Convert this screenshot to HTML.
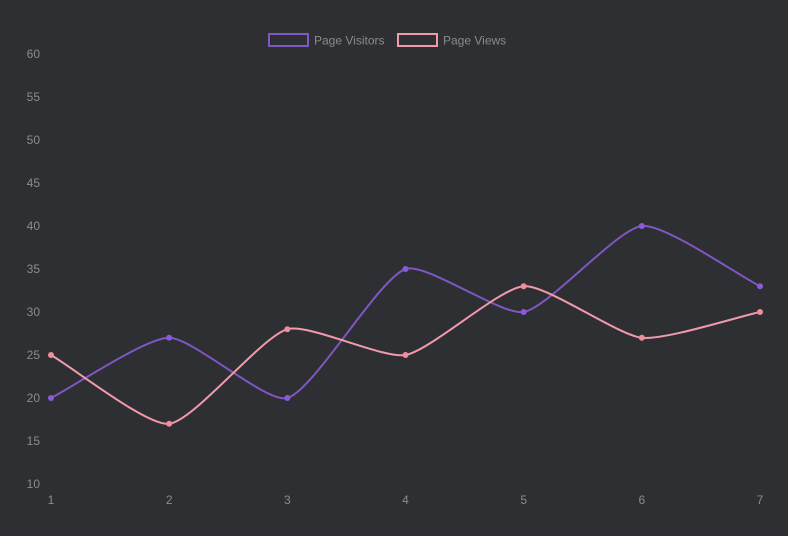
<!DOCTYPE html>
<html>
<head>
<meta charset="utf-8">
<style>
  html, body { margin:0; padding:0; background:#2e2f33; }
  svg { display:block; }
  text { font-family: "Liberation Sans", Arial, sans-serif; font-size:12px; fill:#8c8c8c; }
</style>
</head>
<body>
<svg width="788" height="536" viewBox="0 0 788 536" xmlns="http://www.w3.org/2000/svg">
  <rect x="0" y="0" width="788" height="536" fill="#2e2f33"/>

  <!-- Legend -->
  <rect x="269" y="34" width="39" height="12" fill="none" stroke="#7e57c2" stroke-width="2"/>
  <text x="314" y="44.5">Page Visitors</text>
  <rect x="398" y="34" width="39" height="12" fill="none" stroke="#f29aab" stroke-width="2"/>
  <text x="443" y="44.5">Page Views</text>

  <!-- Y axis labels -->
  <g text-anchor="end">
    <text x="40" y="58">60</text>
    <text x="40" y="101">55</text>
    <text x="40" y="144">50</text>
    <text x="40" y="187">45</text>
    <text x="40" y="230">40</text>
    <text x="40" y="273">35</text>
    <text x="40" y="316">30</text>
    <text x="40" y="359">25</text>
    <text x="40" y="402">20</text>
    <text x="40" y="445">15</text>
    <text x="40" y="488">10</text>
  </g>

  <!-- X axis labels -->
  <g text-anchor="middle">
    <text x="51" y="504">1</text>
    <text x="169.17" y="504">2</text>
    <text x="287.33" y="504">3</text>
    <text x="405.5" y="504">4</text>
    <text x="523.67" y="504">5</text>
    <text x="641.83" y="504">6</text>
    <text x="760" y="504">7</text>
  </g>

  <!-- Page Visitors -->
  <path d="M51,398 C74.64,385.96 145.53,337.8 169.17,337.8 C192.81,337.8 266.94,403.94 287.33,398 C314.21,390.17 378,279 405.5,269 C425.27,261.8 501.81,315.98 523.67,312 C549.08,307.37 617.05,228.71 641.83,226 C664.32,223.54 736.36,274.16 760,286.2"
        fill="none" stroke="#7e57c2" stroke-width="2"/>
  <g fill="#8a5ad8">
    <circle cx="51" cy="398" r="3"/>
    <circle cx="169.17" cy="337.8" r="3"/>
    <circle cx="287.33" cy="398" r="3"/>
    <circle cx="405.5" cy="269" r="3"/>
    <circle cx="523.67" cy="312" r="3"/>
    <circle cx="641.83" cy="226" r="3"/>
    <circle cx="760" cy="286.2" r="3"/>
  </g>

  <!-- Page Views -->
  <path d="M51,355 C74.64,368.76 146.74,426.25 169.17,423.8 C194.01,421.09 261.05,336.85 287.33,329.2 C308.32,323.09 383.32,359.04 405.5,355 C430.58,350.44 499.34,287.97 523.67,286.2 C546.61,284.53 617.44,335.13 641.83,337.8 C664.71,340.3 736.36,317.16 760,312"
        fill="none" stroke="#f29aab" stroke-width="2"/>
  <g fill="#f28b9c">
    <circle cx="51" cy="355" r="3"/>
    <circle cx="169.17" cy="423.8" r="3"/>
    <circle cx="287.33" cy="329.2" r="3"/>
    <circle cx="405.5" cy="355" r="3"/>
    <circle cx="523.67" cy="286.2" r="3"/>
    <circle cx="641.83" cy="337.8" r="3"/>
    <circle cx="760" cy="312" r="3"/>
  </g>
</svg>
</body>
</html>
